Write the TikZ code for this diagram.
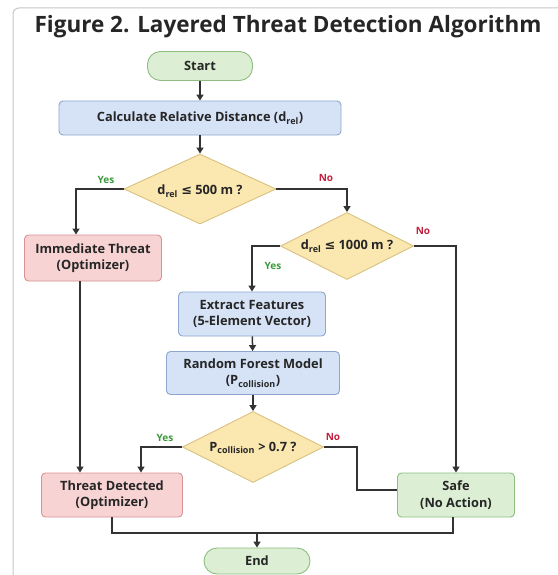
\documentclass[tikz,border=0pt]{standalone}
\usepackage{fontspec}
\setmainfont{Open Sans}
\newfontfamily\symfont{DejaVu Sans}
\usetikzlibrary{arrows.meta,shapes.geometric,calc}
\definecolor{gfill}{HTML}{DCEFD4}
\definecolor{gdraw}{HTML}{8DBE80}
\definecolor{bfill}{HTML}{D6E3F7}
\definecolor{bdraw}{HTML}{8EA6CF}
\definecolor{rfill}{HTML}{F8D3D3}
\definecolor{rdraw}{HTML}{D89494}
\definecolor{yfill}{HTML}{FBE7B0}
\definecolor{ydraw}{HTML}{D9C27E}
\definecolor{linec}{HTML}{333333}
\definecolor{yesc}{HTML}{3A9A3A}
\definecolor{noc}{HTML}{C42040}
\newcommand{\lessq}{{\symfont ≤}}
\tikzset{
  txt/.style={font=\fontsize{12.8}{16.5}\selectfont\bfseries, text=black!85},
  box/.style={txt, rectangle, rounded corners=4pt, line width=0.9pt, align=center, inner sep=1pt},
  pill/.style={box, rounded corners=13pt, fill=gfill, draw=gdraw},
  bluebox/.style={box, fill=bfill, draw=bdraw},
  redbox/.style={box, fill=rfill, draw=rdraw},
  greenbox/.style={box, fill=gfill, draw=gdraw},
  dec/.style={diamond, inner sep=0pt, fill=yfill, draw=ydraw, line width=0.9pt},
  dlabel/.style={txt},
  arr/.style={line width=1.5pt, draw=linec, -{Triangle[length=6pt,width=7pt]}},
  ln/.style={line width=1.5pt, draw=linec},
  yeslbl/.style={font=\fontsize{10}{12}\selectfont\bfseries, text=yesc},
  nolbl/.style={font=\fontsize{10}{12}\selectfont\bfseries, text=noc},
}
\begin{document}
\begin{tikzpicture}[x=1pt,y=-1pt]
\useasboundingbox (0,0) rectangle (557,575);
\fill[white] (0,0) rectangle (557,575);
\draw[black!22, line width=1pt, rounded corners=6pt] (13,580) -- (13,8) -- (570,8);
\node[font=\fontsize{22.5}{27}\selectfont\bfseries, text=black!85] (title) at (288,27) {Figure 2. Layered Threat Detection Algorithm};

\node[pill, minimum width=105pt, minimum height=29pt] (start) at (200,66) {Start};
\node[bluebox, minimum width=282pt, minimum height=34pt] (calc) at (200,118) {Calculate Relative Distance (d\textsubscript{rel})};
\node[dec, minimum width=152pt, minimum height=70pt] (d1) at (200,189) {};
\node[dlabel] (t1) at ($(d1)+(0,2)$) {d\textsubscript{rel} \lessq{} 500 m ?};
\node[redbox, minimum width=137pt, minimum height=46pt] (imm) at (93,258) {Immediate Threat\\(Optimizer)};
\node[dec, minimum width=133pt, minimum height=67pt] (d2) at (347,246) {};
\node[dlabel] (t2) at ($(d2)+(0,0)$) {d\textsubscript{rel} \lessq{} 1000 m ?};
\node[bluebox, minimum width=147pt, minimum height=44pt] (ext) at (252,314) {Extract Features\\(5-Element Vector)};
\node[bluebox, minimum width=173pt, minimum height=43pt] (rf) at (253,373) {Random Forest Model\\(P\textsubscript{collision})};
\node[dec, minimum width=141pt, minimum height=71pt] (d3) at (253,447) {};
\node[dlabel] (t3) at ($(d3)+(0,1)$) {P\textsubscript{collision} > 0.7 ?};
\node[redbox, minimum width=141pt, minimum height=44pt] (td) at (112,495) {Threat Detected\\(Optimizer)};
\node[greenbox, minimum width=117pt, minimum height=44pt] (safe) at (456,495) {Safe\\(No Action)};
\node[pill, minimum width=106pt, minimum height=26pt] (endn) at (257,561) {End};

\draw[arr] (start) -- (calc);
\draw[arr] (calc) -- (d1);
\draw[arr] (d1.west) -| ($(imm.north)+(-17,0)$);
\draw[arr] (d1.east) -| (d2.north);
\draw[arr] (d2.west) -| (ext.north);
\draw[arr] (d2.east) -| (safe.north);
\draw[arr] (ext) -- (rf);
\draw[arr] (rf) -- (d3);
\coordinate (a) at ($(imm.south)+(-13,0)$);
\draw[arr] (a) -- (a |- td.north);
\draw[arr] (d3.west) -| ($(td.north)+(29,0)$);
\draw[ln] (d3.east) -- ++(33,0) |- ($(safe.west)+(0,-5)$);
\coordinate (j) at (257,533);
\draw[ln] (td.south) |- (j) -| ($(safe.south)+(-3,0)$);
\draw[arr] (j) -- (endn.north);

\node[yeslbl] (y1) at (106,180) {Yes};
\node[nolbl] (n1) at (326,178) {No};
\node[nolbl] (n2) at (423,231) {No};
\node[yeslbl] (y2) at (273,266) {Yes};
\node[yeslbl] (y3) at (165,438) {Yes};
\node[nolbl] (n3) at (333,437) {No};
\end{tikzpicture}
\end{document}
